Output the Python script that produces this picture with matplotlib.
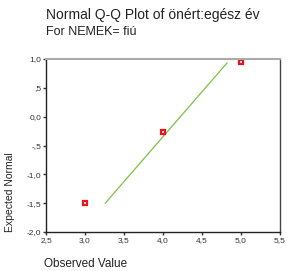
import matplotlib
matplotlib.use("Agg")
import matplotlib.pyplot as plt
from matplotlib.ticker import FuncFormatter

observed = [3.0, 4.0, 5.0]
expected = [-1.50, -0.27, 0.94]
line_x = [3.26, 4.82]
line_y = [-1.50, 0.93]
xticks = [2.5, 3.0, 3.5, 4.0, 4.5, 5.0, 5.5]
yticks = [-2.0, -1.5, -1.0, -0.5, 0.0, 0.5, 1.0]

plt.rcParams['font.family'] = ['Liberation Sans', 'DejaVu Sans']

fig = plt.figure(figsize=(2.94, 2.71), dpi=100)
ax = fig.add_axes([46/294, 1-232/271, (280-46)/294, (232-59)/271])

ax.plot(line_x, line_y, color='#7cc242', lw=0.9)
ax.plot(observed, expected, ls='none', marker='s', ms=3.0, mfc='white',
        mec='#e8141c', mew=1.6)

ax.set_xlim(2.5, 5.5)
ax.set_ylim(-2.0, 1.0)
ax.set_xticks(xticks)
ax.set_yticks(yticks)

def fmt(v, pos):
    s = f"{v:.1f}".replace('.', ',')
    if s.startswith('0,') and v != 0:
        s = s[1:]
    if s.startswith('-0,'):
        s = '-' + s[2:]
    return s

ax.xaxis.set_major_formatter(FuncFormatter(fmt))
ax.yaxis.set_major_formatter(FuncFormatter(fmt))
ax.tick_params(labelsize=6, length=2, width=1, pad=1.5, colors='#333333')

for name, sp in ax.spines.items():
    sp.set_linewidth(1.0)
ax.spines['left'].set_color('#222222')
ax.spines['bottom'].set_color('#222222')
ax.spines['right'].set_color('#444444')
ax.spines['top'].set_color('#aaaaaa')
ax.spines['top'].set_linewidth(1.5)

fig.text(46/294, 1-15/271, "Normal Q-Q Plot of önért:egész év", fontsize=10,
         va='center', ha='left', color='#222222')
fig.text(46/294, 1-32/271, "For NEMEK= fiú", fontsize=9.0,
         va='center', ha='left', color='#222222')
fig.text(44/294, 1-264/271, "Observed Value", fontsize=8.5,
         va='center', ha='left', color='#222222')
fig.text(10/294, 1-192/271, "Expected Normal", fontsize=7.5, rotation=90,
         va='center', ha='center', color='#222222')

fig.savefig("out.png", dpi=100)
